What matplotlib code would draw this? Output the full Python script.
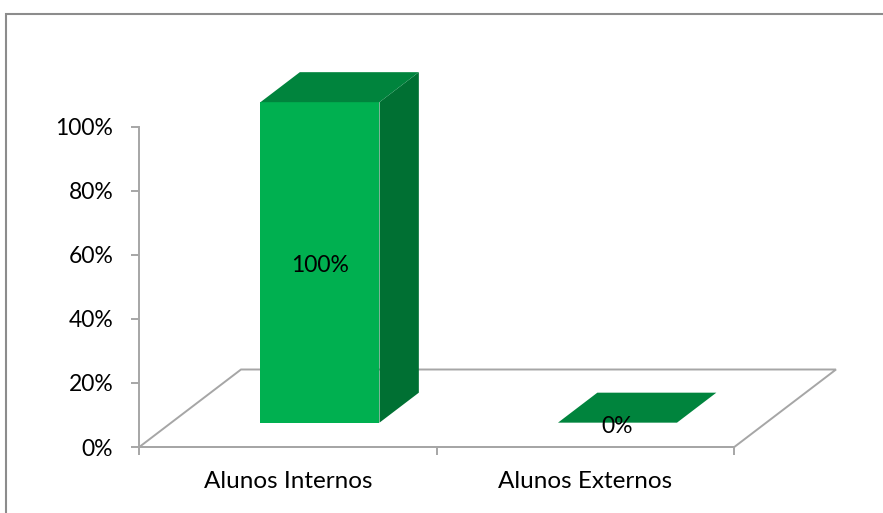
import matplotlib
matplotlib.use("Agg")
import matplotlib.pyplot as plt
from matplotlib.patches import Polygon, Rectangle

# data
categories = ["Alunos Internos", "Alunos Externos"]
values = [100, 0]
value_labels = ["100%", "0%"]
y_ticks = [0, 20, 40, 60, 80, 100]
y_tick_labels = ["0%", "20%", "40%", "60%", "80%", "100%"]

# style
FRONT, TOP, SIDE = "#00B050", "#00843D", "#007033"
GRAY = "#A6A6A6"
W, H, DPI = 883, 513, 100
FLOOR_DEPTH_PX = (101.7, 77.5)   # pseudo-3D depth of the floor, in pixels
BAR_START, BAR_DEPTH = 0.314, 0.387  # fractions of floor depth
BAR_WIDTH = 0.4

plt.rcParams["font.family"] = ["Lato", "DejaVu Sans"]
fig = plt.figure(figsize=(W / DPI, H / DPI), dpi=DPI)
ax = fig.add_axes([139.3 / W, 66 / H, 595 / W, 320.5 / H])
n = len(categories)
ax.set_xlim(0, n)
ax.set_ylim(0, 100)

# convert depth vector from pixels to data units
p0 = ax.transData.transform((0, 0))
p1 = ax.transData.transform((1, 1))
dxd = FLOOR_DEPTH_PX[0] / (p1[0] - p0[0])
dyd = FLOOR_DEPTH_PX[1] / (p1[1] - p0[1])

def shift(pt, f):
    return (pt[0] + f * dxd, pt[1] + f * dyd)

# floor
floor = [(0, 0), (n, 0), shift((n, 0), 1), shift((0, 0), 1)]
ax.add_patch(Polygon(floor, closed=True, fill=False, ec=GRAY, lw=1.4,
                     clip_on=False, zorder=1))

a, b = BAR_START, BAR_START + BAR_DEPTH
for i, (v, lab) in enumerate(zip(values, value_labels)):
    x0 = i + 0.5 - BAR_WIDTH / 2
    x1 = x0 + BAR_WIDTH
    front = [shift((x0, 0), a), shift((x1, 0), a), shift((x1, v), a), shift((x0, v), a)]
    side = [shift((x1, 0), a), shift((x1, 0), b), shift((x1, v), b), shift((x1, v), a)]
    top = [shift((x0, v), a), shift((x1, v), a), shift((x1, v), b), shift((x0, v), b)]
    for pts, c in ((front, FRONT), (side, SIDE), (top, TOP)):
        ax.add_patch(Polygon(pts, closed=True, fc=c, ec="none", lw=0,
                             clip_on=False, zorder=3))
    # label at centre of the front face
    ax.annotate(lab, shift((i + 0.5, v / 2), a), xytext=(0, -2.5),
                textcoords="offset points", ha="center", va="center",
                fontsize=16.5, color="black", zorder=4, annotation_clip=False)

# axes
for s in ("top", "right"):
    ax.spines[s].set_visible(False)
ax.spines["left"].set_color(GRAY)
ax.spines["left"].set_linewidth(1.4)
ax.spines["bottom"].set_color(GRAY)
ax.spines["bottom"].set_linewidth(1.4)
ax.set_yticks(y_ticks)
ax.set_yticklabels(y_tick_labels)
ax.set_xticks(range(n + 1))
ax.set_xticklabels([])
ax.set_xticks([i + 0.5 for i in range(n)], minor=True)
ax.set_xticklabels(categories, minor=True)
ax.tick_params(axis="y", length=5.8, width=1.4, color=GRAY, pad=13,
               labelsize=16.5, labelcolor="black")
ax.tick_params(axis="x", which="major", length=5.8, width=1.4, color=GRAY)
ax.tick_params(axis="x", which="minor", length=0, pad=17,
               labelsize=17.5, labelcolor="black")
ax.patch.set_visible(False)

# chart area border
fig.patches.append(Rectangle((5.5 / W, -0.1), 1.2, 1 - 13.5 / H + 0.1,
                             transform=fig.transFigure, fill=False,
                             ec="#8C8C8C", lw=1.5))

fig.savefig("out.png", dpi=DPI)
